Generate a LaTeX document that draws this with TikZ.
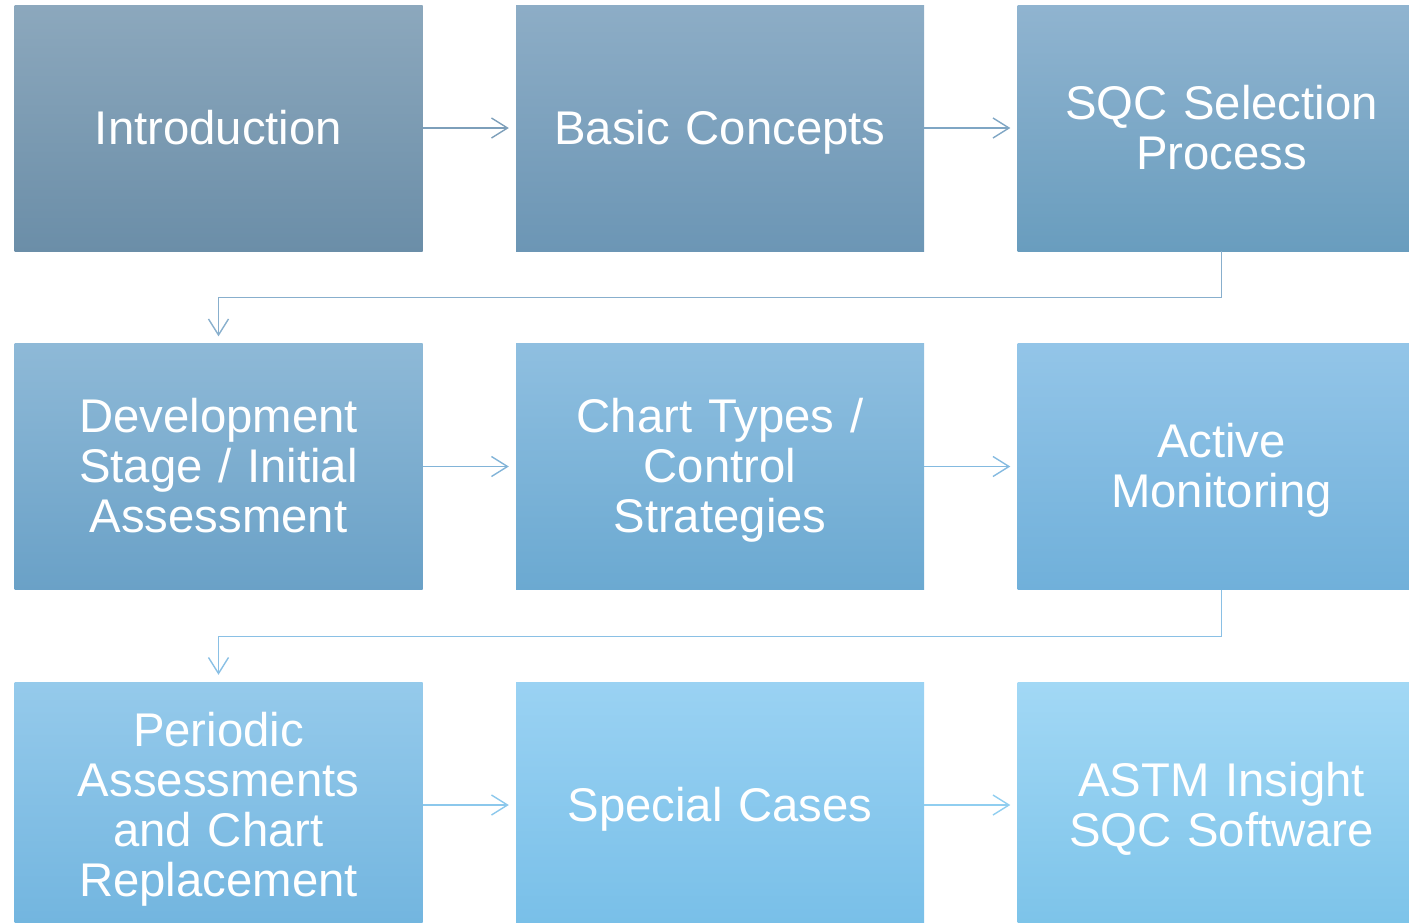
\documentclass[tikz,border=0pt]{standalone}
\usepackage{fontspec}
\setmainfont{Liberation Sans}
\usetikzlibrary{arrows.meta}
\definecolor{t1}{HTML}{8CA8BD}\definecolor{b1}{HTML}{6B8EA8}
\definecolor{t2}{HTML}{8DADC6}\definecolor{b2}{HTML}{6C96B5}
\definecolor{t3}{HTML}{90B4D0}\definecolor{b3}{HTML}{699DBE}
\definecolor{t4}{HTML}{8EB9D7}\definecolor{b4}{HTML}{6AA1C7}
\definecolor{t5}{HTML}{8FBFE0}\definecolor{b5}{HTML}{6BA9D1}
\definecolor{t6}{HTML}{93C5E8}\definecolor{b6}{HTML}{70B0DA}
\definecolor{t7}{HTML}{95CAEB}\definecolor{b7}{HTML}{72B5DF}
\definecolor{t8}{HTML}{9AD2F3}\definecolor{b8}{HTML}{78BFE8}
\definecolor{t9}{HTML}{A2D8F5}\definecolor{b9}{HTML}{7CC3E9}
\definecolor{l1}{HTML}{7D9FBA}\definecolor{l2}{HTML}{7FA6C4}
\definecolor{l3}{HTML}{88AFCD}\definecolor{l4}{HTML}{82B4D8}
\definecolor{l5}{HTML}{84BAE0}\definecolor{l6}{HTML}{8AC0E5}
\definecolor{l7}{HTML}{8CC8EC}\definecolor{l8}{HTML}{90CEF0}
\tikzset{
  stagebox/.style 2 args={rectangle, inner sep=0pt, minimum width=408pt,
    minimum height=246pt, text width=380pt, align=center, text=white,
    execute at begin node={\rule{0pt}{42pt}},
    execute at end node={\rule[-10pt]{0pt}{10pt}},
    font=\fontsize{47.3pt}{50pt}\selectfont,
    top color=#1, bottom color=#2, draw=none},
  flow/.style={line width=1.4pt, -{Straight Barb[length=16pt,width=20pt,line width=1.4pt]},
    shorten >=7pt},
}
\begin{document}
\begin{tikzpicture}[x=1pt,y=-1pt]
\useasboundingbox (0,0) rectangle (1409,922);
\clip (0,0) rectangle (1409,922);
% row 1
\node[stagebox={t1}{b1}] (intro) at (218.5,128) {Introduction};
\node[stagebox={t2}{b2}] (basic) at (720,128) {Basic Concepts};
\node[stagebox={t3}{b3}] (select) at (1221.5,128) {SQC Selection\\Process};
% row 2
\node[stagebox={t4}{b4}] (devel) at (218.5,466.5) {Development\\Stage / Initial\\Assessment};
\node[stagebox={t5}{b5}] (chart) at (720,466.5) {Chart Types /\\Control\\Strategies};
\node[stagebox={t6}{b6}] (active) at (1221.5,466.5) {Active\\Monitoring};
% row 3
\node[stagebox={t7}{b7}] (period) at (218.5,805) {Periodic\\Assessments\\and Chart\\Replacement};
\node[stagebox={t8}{b8}] (special) at (720,805) {Special Cases};
\node[stagebox={t9}{b9}] (astm) at (1221.5,805) {ASTM Insight\\SQC Software};
% connectors
\draw[flow, draw=l1] (intro) -- (basic);
\draw[flow, draw=l2] (basic) -- (select);
\draw[flow, draw=l3] (select.south) -- ++(0,46) -| (devel.north);
\draw[flow, draw=l4] (devel) -- (chart);
\draw[flow, draw=l5] (chart) -- (active);
\draw[flow, draw=l6] (active.south) -- ++(0,47) -| (period.north);
\draw[flow, draw=l7] (period) -- (special);
\draw[flow, draw=l8] (special) -- (astm);
\end{tikzpicture}
\end{document}
